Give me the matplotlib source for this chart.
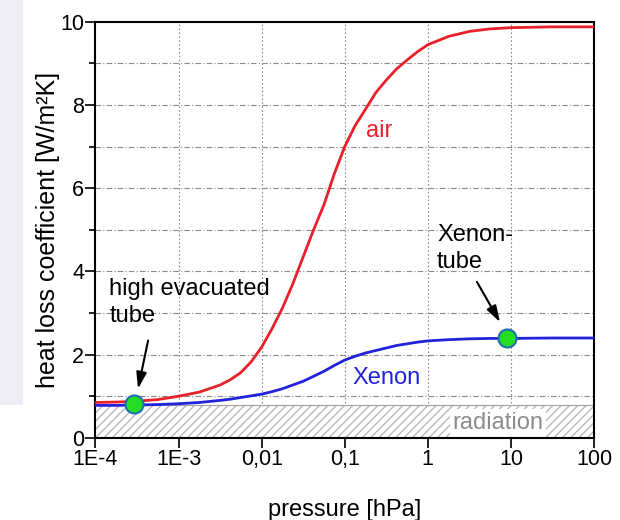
import matplotlib.pyplot as plt
from matplotlib.patches import Rectangle

# pressure in hPa (finer steps where the curves bend)
pressure = [1e-4, 1.78e-4, 3.16e-4, 5.62e-4,
            1e-3, 1.78e-3,
            3.16e-3, 4.22e-3, 5.62e-3, 7.5e-3,
            0.01, 0.0133, 0.0178, 0.0237,
            0.0316, 0.0422, 0.0562, 0.075,
            0.1, 0.133, 0.178, 0.237,
            0.316, 0.422, 0.562, 0.75,
            1, 1.78, 3.16, 5.62,
            10, 31.6, 100]
air = [0.85, 0.86, 0.88, 0.92,
       1.0, 1.1,
       1.27, 1.4, 1.57, 1.83,
       2.18, 2.62, 3.12, 3.7,
       4.35, 5.0, 5.6, 6.35,
       7.0, 7.5, 7.9, 8.3,
       8.6, 8.87, 9.08, 9.28,
       9.45, 9.65, 9.77, 9.83,
       9.86, 9.88, 9.88]
xenon = [0.78, 0.78, 0.79, 0.80,
         0.82, 0.85,
         0.90, 0.93, 0.97, 1.01,
         1.05, 1.11, 1.18, 1.27,
         1.36, 1.48, 1.6, 1.74,
         1.87, 1.96, 2.04, 2.10,
         2.16, 2.22, 2.26, 2.30,
         2.33, 2.36, 2.38, 2.39,
         2.39, 2.40, 2.40]
radiation = 0.79

tubes_p = [2.9e-4, 9.1]
tubes_k = [0.82, 2.39]

yticks = [0, 2, 4, 6, 8, 10]
xticks = [1e-4, 1e-3, 0.01, 0.1, 1, 10, 100]
xticklabels = ['1E-4', '1E-3', '0,01', '0,1', '1', '10', '100']

plt.rcParams['font.family'] = ['Liberation Sans', 'DejaVu Sans']

fig = plt.figure(figsize=(6.2, 5.2), dpi=100)
# light strip at the left edge of the picture
fig.patches.append(Rectangle((0, 1 - 405 / 520), 23 / 620, 405 / 520,
                             transform=fig.transFigure, facecolor='#ededf3',
                             edgecolor='none', zorder=0))
ax = fig.add_axes([0.154, 0.158, 0.804, 0.800])
ax.set_xscale('log')
ax.set_xlim(1e-4, 100)
ax.set_ylim(0, 10)

# grid: dash-dot horizontals, dotted verticals
for k in range(1, 10):
    ax.axhline(k, color='#8a8a8a', lw=0.8, ls=(0, (5, 2, 1, 2)), zorder=1)
for p in xticks[1:-1]:
    ax.axvline(p, color='#8a8a8a', lw=0.8, ls=(0, (1.5, 2)), zorder=1)

# radiation band
ax.fill_between([1e-4, 100], 0, radiation, facecolor='white',
                edgecolor='#b8b8b8', hatch='////', lw=0, zorder=1)
ax.axhline(radiation, color='#a0a0a0', lw=0.8, zorder=1)
ax.text(7.0, 0.36, 'radiation', color='#8c8c8c', fontsize=17,
        ha='center', va='center', zorder=2,
        bbox=dict(facecolor='white', edgecolor='none', pad=2))

ax.plot(pressure, air, color='#e8202a', lw=2, zorder=3)
ax.plot(pressure, xenon, color='#2222dd', lw=2, zorder=3)
ax.plot(tubes_p, tubes_k, ls='none', marker='o', ms=13,
        markerfacecolor='#22dd22', markeredgecolor='#1f6fb0',
        markeredgewidth=1.5, zorder=4)

ax.text(0.26, 7.38, 'air', color='#e8202a', fontsize=17, ha='center', va='center')
ax.text(0.32, 1.43, 'Xenon', color='#2222dd', fontsize=17, ha='center', va='center')

arrow = dict(arrowstyle='-|>,head_length=0.7,head_width=0.22', color='black',
             lw=1.5, mutation_scale=14, shrinkA=0, shrinkB=0)
ax.text(1.47e-4, 3.84, 'high evacuated\ntube', fontsize=17, ha='left', va='top',
        linespacing=1.3)
ax.annotate('', xy=(3.25e-4, 1.18), xytext=(4.3e-4, 2.34), arrowprops=arrow)
ax.text(1.29, 5.15, 'Xenon-\ntube', fontsize=17, ha='left', va='top',
        linespacing=1.3)
ax.annotate('', xy=(7.4, 2.78), xytext=(3.9, 3.75), arrowprops=arrow)

ax.set_xticks(xticks)
ax.set_xticklabels(xticklabels)
ax.xaxis.set_minor_locator(plt.NullLocator())
ax.set_yticks(yticks)
ax.set_yticks([1, 3, 5, 7, 9], minor=True)
ax.tick_params(which='major', direction='out', length=7, width=1.2,
               labelsize=15.5, pad=1)
ax.tick_params(which='minor', direction='out', length=4, width=1.2)
for s in ax.spines.values():
    s.set_linewidth(1.5)

ax.set_xlabel('pressure [hPa]', fontsize=17, labelpad=21)
ax.set_ylabel('heat loss coefficient [W/m²K]', fontsize=18, labelpad=0)

fig.savefig('out.png', dpi=100)
